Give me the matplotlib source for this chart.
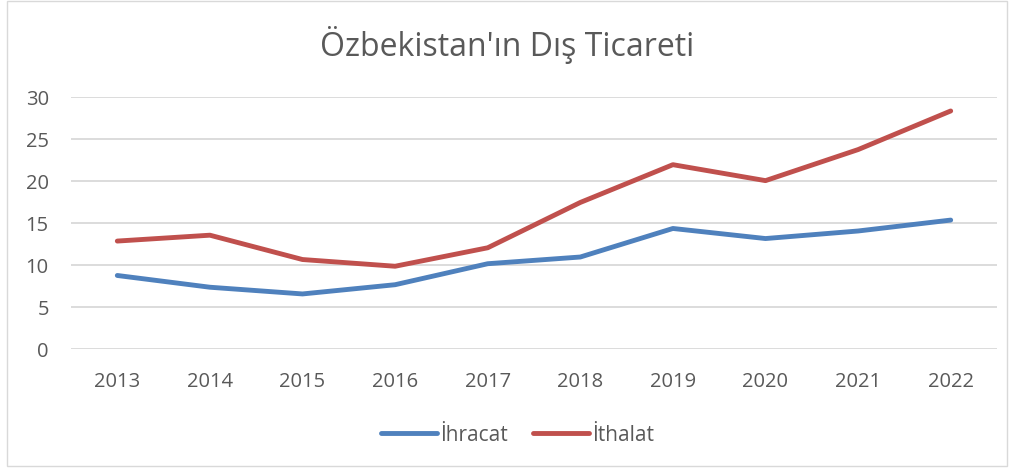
import matplotlib
matplotlib.use("Agg")
import matplotlib.pyplot as plt
from matplotlib.patches import Rectangle

years = ["2013", "2014", "2015", "2016", "2017", "2018", "2019", "2020", "2021", "2022"]
ihracat = [8.7, 7.3, 6.5, 7.6, 10.1, 10.9, 14.3, 13.1, 14.0, 15.3]
ithalat = [12.8, 13.5, 10.6, 9.8, 12.0, 17.4, 21.9, 20.0, 23.7, 28.3]
yticks = [0, 5, 10, 15, 20, 25, 30]

plt.rcParams['font.family'] = ['Open Sans', 'DejaVu Sans']
txt = "#595959"

fig = plt.figure(figsize=(10.15, 4.77), dpi=100)
fig.patches.append(Rectangle((0.007, 0.02), 0.985, 0.975, transform=fig.transFigure,
                             fill=False, edgecolor="#d9d9d9", linewidth=1))
ax = fig.add_axes([71 / 1015, 1 - 349.5 / 477, (997 - 71) / 1015, (349.5 - 97.7) / 477])

x = range(len(years))
ax.plot(x, ihracat, color="#4f81bd", linewidth=3.5, solid_capstyle="round", label="İhracat")
ax.plot(x, ithalat, color="#c0504d", linewidth=3.5, solid_capstyle="round", label="İthalat")

ax.set_xlim(-0.5, len(years) - 0.5)
ax.set_ylim(0, 30)
ax.set_xticks(list(x))
ax.set_xticklabels(years)
ax.set_yticks(yticks)
ax.tick_params(length=0, labelsize=14.5, colors=txt)
ax.tick_params(axis="x", pad=16)
ax.tick_params(axis="y", pad=16)
for s in ax.spines.values():
    s.set_visible(False)
ax.grid(axis="y", color="#d9d9d9", linewidth=1.3)
ax.set_axisbelow(True)

fig.text(0.5, 0.905, "Özbekistan'ın Dış Ticareti", ha="center", va="center", fontsize=23, color=txt)
fig.legend(loc="center", bbox_to_anchor=(0.51, 0.087), ncol=2, frameon=False, fontsize=15,
           handlelength=2.7, handletextpad=0.15, columnspacing=1.2, labelcolor=txt)

fig.savefig("out.png", dpi=100)
